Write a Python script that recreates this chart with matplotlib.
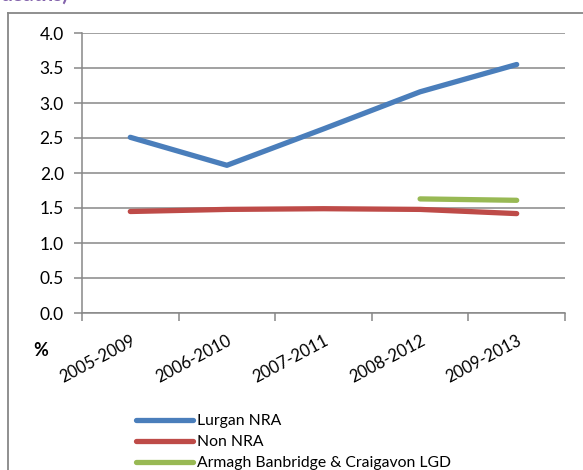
import numpy as np
import matplotlib
matplotlib.use("Agg")
import matplotlib.pyplot as plt
from matplotlib.lines import Line2D

# periodes et valeurs (%)
periodes = ["2005-2009", "2006-2010", "2007-2011", "2008-2012", "2009-2013"]
lurgan_nra = [2.51, 2.11, 2.63, 3.16, 3.55]
non_nra = [1.45, 1.48, 1.49, 1.48, 1.42]
abc_lgd = [np.nan, np.nan, np.nan, 1.63, 1.61]
series_noms = ["Lurgan NRA", "Non NRA", "Armagh Banbridge & Craigavon LGD"]
yticks = [0.0, 0.5, 1.0, 1.5, 2.0, 2.5, 3.0, 3.5, 4.0]

plt.rcParams["font.family"] = ["Lato", "DejaVu Sans"]
gris = "#878787"

fig = plt.figure(figsize=(5.83, 4.70), dpi=100)
ax = fig.add_axes([82 / 583, 1 - 313 / 470, 483 / 583, 280 / 470])

x = np.arange(len(periodes))
couleurs = ["#4A7EBB", "#BE4B48", "#98B954"]
for vals, c, nom in zip([lurgan_nra, non_nra, abc_lgd], couleurs, series_noms):
    ax.plot(x, vals, color=c, linewidth=3.8, solid_capstyle="round", label=nom)

ax.set_xlim(-0.5, len(periodes) - 0.5)
ax.set_ylim(0, 4.0)
ax.set_yticks(yticks)
ax.set_yticklabels([f"{v:.1f}" for v in yticks], fontsize=12.5)
ax.yaxis.grid(True, color=gris, linewidth=1.1)
ax.set_axisbelow(True)

# ticks aux limites de categorie (style Excel)
ax.set_xticks(np.arange(-0.5, len(periodes)), minor=False)
ax.set_xticklabels([])
ax.set_xticks(x, minor=True)
ax.set_xticklabels(periodes, minor=True, rotation=28, ha="right",
                   rotation_mode="anchor", fontsize=12)
ax.tick_params(axis="x", which="minor", length=0, pad=14)
ax.tick_params(axis="x", which="major", length=6, width=1.1, color=gris)
ax.tick_params(axis="y", length=6, width=1.1, color=gris, pad=7)

for s in ["top", "right"]:
    ax.spines[s].set_visible(False)
for s in ["left", "bottom"]:
    ax.spines[s].set_color(gris)
    ax.spines[s].set_linewidth(1.1)

# cadre exterieur
fig.add_artist(Line2D([8 / 583, 8 / 583], [0, 1 - 13 / 470], transform=fig.transFigure,
                      color=gris, linewidth=1.3))
fig.add_artist(Line2D([8 / 583, 1], [1 - 13 / 470, 1 - 13 / 470], transform=fig.transFigure,
                      color=gris, linewidth=1.3))

# titre coupe en haut
fig.text(0.0, 1 - 1 / 470, "deaths)", color="#8464AC", fontsize=15, fontweight="bold",
         va="baseline", ha="left")

fig.text(33 / 583, 1 - 359 / 470, "%", fontsize=13, fontweight="bold", va="bottom", ha="left")

ax.legend(loc="upper left", bbox_to_anchor=(136 / 583, 1 - 414 / 470),
          bbox_transform=fig.transFigure, frameon=False, fontsize=11.3,
          handlelength=3.6, handletextpad=0.3, labelspacing=0.45, borderpad=0,
          borderaxespad=0)

fig.savefig("out.png", dpi=100)
